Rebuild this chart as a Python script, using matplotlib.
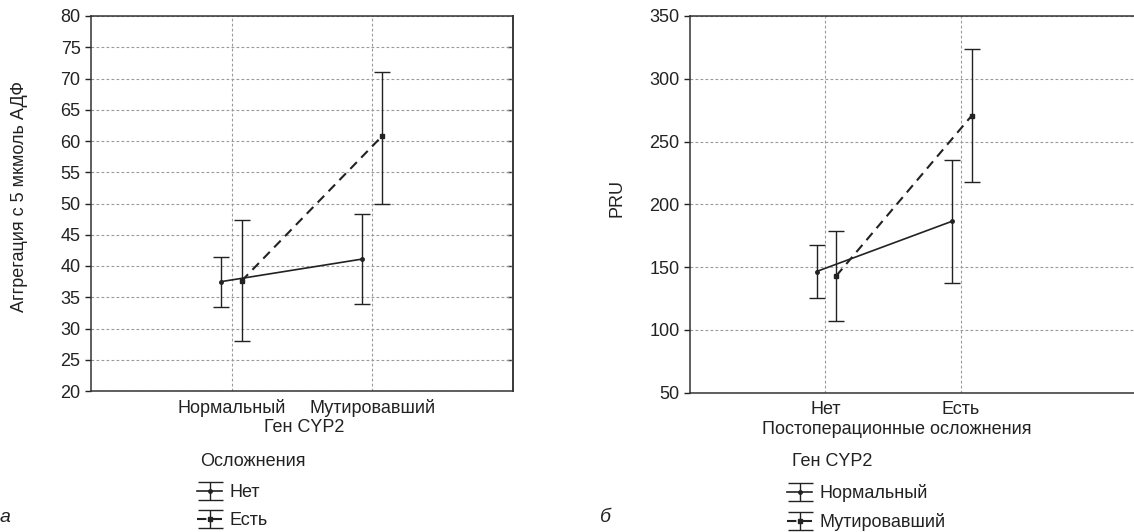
import matplotlib
matplotlib.use("Agg")
import matplotlib.pyplot as plt
from matplotlib.lines import Line2D
import numpy as np

plt.rcParams["font.family"] = ["Liberation Sans", "DejaVu Sans"]

# --- panel a: aggregation vs CYP2 gene, grouped by complications ---
cats_a = ["Нормальный", "Мутировавший"]
a_no_mean = [37.5, 41.1]
a_no_lo = [33.4, 33.9]
a_no_hi = [41.5, 48.3]
a_yes_mean = [37.6, 60.8]
a_yes_lo = [28.0, 50.0]
a_yes_hi = [47.3, 71.1]
labels_a = ["Нет", "Есть"]

# --- panel b: PRU vs complications, grouped by CYP2 gene ---
cats_b = ["Нет", "Есть"]
b_norm_mean = [146.5, 186.5]
b_norm_lo = [125.5, 137.5]
b_norm_hi = [167.5, 235.5]
b_mut_mean = [143.0, 270.5]
b_mut_lo = [107.0, 217.5]
b_mut_hi = [178.5, 324.0]
labels_b = ["Нормальный", "Мутировавший"]

W, H = 1134, 532
INK = "#222222"
FS = 13


def px(x, y):
    return x / W, 1 - y / H


def errplot(ax, xs, mean, lo, hi, dashed, marker, ms, label):
    mean = np.array(mean)
    yerr = [mean - np.array(lo), np.array(hi) - mean]
    ls = (0, (4.5, 3)) if dashed else "-"
    lw = 1.5 if dashed else 1.2
    ax.errorbar(xs, mean, yerr=yerr, color=INK, linestyle=ls, linewidth=lw,
                marker=marker, markersize=ms, elinewidth=1.0, capsize=5.5,
                capthick=1.0, label=label, zorder=3)


def style_axes(ax, cats, ylim, yticks, right_spine=True):
    ax.set_ylim(*ylim)
    ax.set_yticks(yticks)
    ax.set_xticks([1, 2])
    ax.set_xticklabels(cats)
    for s in ax.spines.values():
        s.set_color("#333333")
        s.set_linewidth(1.1)
    ax.spines["right"].set_visible(right_spine)
    ax.tick_params(axis="y", direction="out", length=4, width=1.0,
                   colors=INK, labelsize=FS)
    ax.tick_params(axis="x", length=0, pad=6, colors=INK, labelsize=FS)
    ax.grid(True, color="#9a9a9a", linestyle=(0, (2.5, 2)), linewidth=0.8)
    ax.set_axisbelow(True)


fig = plt.figure(figsize=(W / 100, H / 100), dpi=100)

# panel a
ax1 = fig.add_axes([91 / W, 1 - 391 / H, 422 / W, 375 / H])
xa = np.arange(1, len(cats_a) + 1)
errplot(ax1, xa - 0.075, a_no_mean, a_no_lo, a_no_hi, False, "o", 2.5, labels_a[0])
errplot(ax1, xa + 0.07, a_yes_mean, a_yes_lo, a_yes_hi, True, "s", 3.5, labels_a[1])
ax1.set_xlim(0, 3)
style_axes(ax1, cats_a, (20, 80), np.arange(20, 81, 5))
# inward ticks on the right spine
sec = ax1.secondary_yaxis("right")
sec.set_yticks(np.arange(25, 80, 5))
sec.tick_params(direction="in", length=4, width=1.0, colors="#333333",
                labelright=False)
sec.spines["right"].set_color("#333333")
sec.spines["right"].set_linewidth(1.1)

# panel b (cropped on the right side)
ax2 = fig.add_axes([690 / W, 1 - 392.7 / H, 444 / W, 376.7 / H])
xb = np.arange(1, len(cats_b) + 1)
errplot(ax2, xb - 0.065, b_norm_mean, b_norm_lo, b_norm_hi, False, "o", 2.5, labels_b[0])
errplot(ax2, xb + 0.08, b_mut_mean, b_mut_lo, b_mut_hi, True, "s", 3.5, labels_b[1])
ax2.set_xlim(0, 3.28)
style_axes(ax2, cats_b, (50, 350), np.arange(50, 351, 50), right_spine=False)
ax2.tick_params(axis="y", right=False)

# axis labels
fig.text(*px(20, 196), "Аггрегация с 5 мкмоль АДФ", rotation=90,
         ha="center", va="center", fontsize=FS, color=INK)
fig.text(*px(617, 198), "PRU", rotation=90, ha="center", va="center",
         fontsize=FS, color=INK)
fig.text(*px(304, 428), "Ген CYP2", ha="center", va="center",
         fontsize=FS, color=INK)
fig.text(*px(897, 430), "Постоперационные осложнения", ha="center",
         va="center", fontsize=FS, color=INK)

# legend titles and legends
fig.text(*px(200, 461), "Осложнения", ha="left", va="center",
         fontsize=FS, color=INK)
fig.text(*px(792, 461), "Ген CYP2", ha="left", va="center",
         fontsize=FS, color=INK)

for ax, anchor in [(ax1, (197, 484)), (ax2, (787, 484))]:
    h, l = ax.get_legend_handles_labels()
    leg = ax.legend(h, l, loc="upper left", bbox_to_anchor=px(*anchor),
                    bbox_transform=fig.transFigure, frameon=False,
                    fontsize=FS, borderpad=0, borderaxespad=0,
                    handlelength=1.4, handletextpad=0.4, labelspacing=0.62)
    for t in leg.get_texts():
        t.set_color(INK)
    # caps span the whole handle, as in the original
    for ln in leg.findobj(Line2D):
        if ln.get_marker() == "_":
            ln.set_markersize(18)

# panel letters
fig.text(*px(5, 518), "а", style="italic", ha="center", va="center",
         fontsize=FS + 1, color=INK)
fig.text(*px(605, 518), "б", style="italic", ha="center", va="center",
         fontsize=FS + 1, color=INK)

fig.savefig("out.png", dpi=100)
